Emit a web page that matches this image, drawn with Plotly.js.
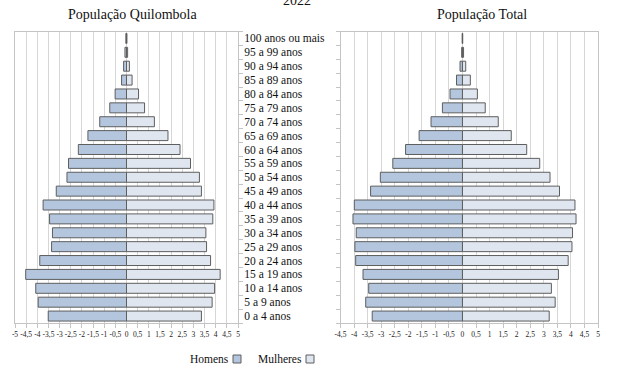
<!DOCTYPE html>
<html>
<head>
<meta charset="utf-8">
<script src="https://cdn.plot.ly/plotly-3.0.1.min.js"></script>
<style>html,body{margin:0;padding:0;background:#fff;}#chart{width:620px;height:376px;}</style>
</head>
<body>
<div id="chart"></div>
<script>
var categories = ['0 a 4 anos','5 a 9 anos','10 a 14 anos','15 a 19 anos','20 a 24 anos','25 a 29 anos','30 a 34 anos','35 a 39 anos','40 a 44 anos','45 a 49 anos','50 a 54 anos','55 a 59 anos','60 a 64 anos','65 a 69 anos','70 a 74 anos','75 a 79 anos','80 a 84 anos','85 a 89 anos','90 a 94 anos','95 a 99 anos','100 anos ou mais'];
var quilHomens   = [3.51,3.96,4.07,4.52,3.89,3.36,3.32,3.45,3.74,3.15,2.67,2.60,2.16,1.73,1.20,0.75,0.51,0.22,0.13,0.07,0.03];
var quilMulheres = [3.36,3.84,3.95,4.20,3.77,3.59,3.56,3.87,3.92,3.36,3.27,2.87,2.40,1.86,1.25,0.81,0.54,0.25,0.13,0.05,0.02];
var totHomens    = [3.33,3.57,3.46,3.67,3.94,3.97,3.92,4.04,3.99,3.39,3.03,2.57,2.10,1.60,1.16,0.74,0.46,0.22,0.09,0.03,0.01];
var totMulheres  = [3.20,3.42,3.28,3.54,3.90,4.04,4.06,4.19,4.15,3.58,3.23,2.85,2.37,1.80,1.32,0.84,0.55,0.29,0.12,0.04,0.01];
var ticksLeft  = [-5,-4.5,-4,-3.5,-3,-2.5,-2,-1.5,-1,-0.5,0,0.5,1,1.5,2,2.5,3,3.5,4,4.5,5];
var ticksRight = [-4.5,-4,-3.5,-3,-2.5,-2,-1.5,-1,-0.5,0,0.5,1,1.5,2,2.5,3,3.5,4,4.5,5];
var titles = ['População Quilombola','População Total'];
var legendNames = ['Homens','Mulheres'];
var yearText = '2022';

var colH = '#b3c6dd', colM = '#dfe6ef', edge = '#5e5e5e';
var W = 620, H = 376;
function px(x){return x/W;}
function py(y){return (H-y)/H;}
function lbl(v){return String(v).replace('.',',');}
function neg(a){return a.map(function(v){return -v;});}

var serif = 'Liberation Serif';
function bar(x, xa, ya, fill){
  return {type:'bar', orientation:'h', x:x, y:categories, xaxis:xa, yaxis:ya,
    marker:{color:fill, line:{color:edge, width:1}}, hoverinfo:'x+y', showlegend:false};
}
var data = [
  bar(neg(quilHomens),'x','y',colH),
  bar(quilMulheres,'x','y',colM),
  bar(neg(totHomens),'x2','y2',colH),
  bar(totMulheres,'x2','y2',colM)
];

var ydom = [py(323), py(31.5)];
var gridC = '#d6d6d6', lineC = '#c4c4c4';
function xax(dom, range, ticks, anchor){
  return {domain:dom, range:range, anchor:anchor, tickvals:ticks, ticktext:ticks.map(lbl),
    tickangle:0, showgrid:true, gridcolor:gridC, gridwidth:1, zeroline:false,
    showline:true, mirror:true, linecolor:lineC, ticks:'outside', ticklen:4, tickcolor:lineC,
    tickfont:{family:serif, size:7.5, color:'#222'}, fixedrange:true};
}
var layout = {
  width:W, height:H, margin:{l:0,r:0,t:0,b:0},
  paper_bgcolor:'#fff', plot_bgcolor:'#fff',
  barmode:'relative', bargap:0.28, showlegend:false,
  font:{family:serif, color:'#222'},
  xaxis: xax([px(15), px(238)], [-5,5], ticksLeft, 'y'),
  xaxis2: xax([px(340.5), px(598)], [-4.5,5], ticksRight, 'y2'),
  yaxis: {domain:ydom, anchor:'x', side:'right', type:'category', categoryorder:'array', categoryarray:categories,
    tickmode:'array', tickvals:categories, ticktext:categories,
    showgrid:false, zeroline:false, showline:true, mirror:true, linecolor:lineC,
    ticks:'outside', ticklen:4, tickcolor:lineC, tickson:'boundaries', ticklabelstandoff:3,
    tickfont:{family:serif, size:11.5, color:'#111'}, fixedrange:true},
  yaxis2: {domain:ydom, anchor:'x2', side:'left', type:'category', categoryorder:'array', categoryarray:categories,
    tickmode:'array', tickvals:categories,
    showgrid:false, zeroline:false, showline:true, mirror:true, linecolor:lineC,
    ticks:'outside', ticklen:4, tickcolor:lineC, tickson:'boundaries', showticklabels:false, fixedrange:true},
  annotations:[
    {text:titles[0], xref:'paper', yref:'paper', x:px(132), y:py(15), xanchor:'center', yanchor:'middle', showarrow:false, font:{family:serif, size:14, color:'#111'}},
    {text:titles[1], xref:'paper', yref:'paper', x:px(482), y:py(15), xanchor:'center', yanchor:'middle', showarrow:false, font:{family:serif, size:14, color:'#111'}},
    {text:yearText, xref:'paper', yref:'paper', x:px(297), y:py(10), xanchor:'center', yanchor:'bottom', showarrow:false, font:{family:serif, size:14, color:'#111'}},
    {text:legendNames[0], xref:'paper', yref:'paper', x:px(231), y:py(359), xanchor:'right', yanchor:'middle', showarrow:false, font:{family:serif, size:11.5, color:'#111'}},
    {text:legendNames[1], xref:'paper', yref:'paper', x:px(304), y:py(359), xanchor:'right', yanchor:'middle', showarrow:false, font:{family:serif, size:11.5, color:'#111'}}
  ],
  shapes:[
    {type:'rect', xref:'paper', yref:'paper', x0:px(233), x1:px(241), y0:py(363), y1:py(355), fillcolor:colH, line:{color:edge, width:1}},
    {type:'rect', xref:'paper', yref:'paper', x0:px(306), x1:px(314), y0:py(363), y1:py(355), fillcolor:colM, line:{color:edge, width:1}}
  ]
};
Plotly.newPlot('chart', data, layout, {displayModeBar:false, staticPlot:true});
</script>
</body>
</html>
